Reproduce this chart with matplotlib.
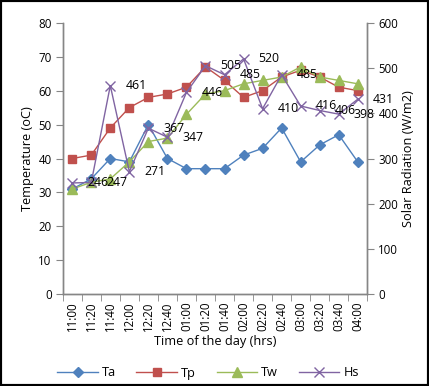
import matplotlib
matplotlib.use("Agg")
import matplotlib.pyplot as plt
from matplotlib.lines import Line2D
from matplotlib.patches import Rectangle

plt.rcParams['font.family'] = ['Open Sans', 'DejaVu Sans']

times = ["11:00", "11:20", "11:40", "12:00", "12:20", "12:40", "01:00", "01:20",
         "01:40", "02:00", "02:20", "02:40", "03:00", "03:20", "03:40", "04:00"]
Ta = [31, 34, 40, 39, 50, 40, 37, 37, 37, 41, 43, 49, 39, 44, 47, 39]
Tp = [40, 41, 49, 55, 58, 59, 61, 67, 63, 58, 60, 64, 66, 64, 61, 60]
Tw = [31, 33, 34, 39, 45, 46, 53, 59, 60, 62, 63, 64, 67, 64, 63, 62]
Hs = [246, 247, 461, 271, 367, 347, 446, 505, 485, 520, 410, 485, 416, 406, 398, 431]

c_ta = "#4F81BD"
c_tp = "#C0504D"
c_tw = "#9BBB59"
c_hs = "#8064A2"
grey = "#868686"
fs_tick = 8.3
fs_lab = 9.2
fs_data = 8.8

fig = plt.figure(figsize=(4.29, 3.86), dpi=100)
ax = fig.add_axes([62.7 / 429, 1 - 294.3 / 386, (367.3 - 62.7) / 429, (294.3 - 22.7) / 386])
ax2 = ax.twinx()

x = list(range(len(times)))
ax.plot(x, Ta, color=c_ta, lw=1, marker='D', ms=5, mfc=c_ta, mec=c_ta, zorder=3)
ax.plot(x, Tp, color=c_tp, lw=1, marker='s', ms=6, mfc=c_tp, mec=c_tp, zorder=3)
ax.plot(x, Tw, color=c_tw, lw=1, marker='^', ms=6.5, mfc=c_tw, mec=c_tw, zorder=3)
ax2.plot(x, Hs, color=c_hs, lw=1, marker='x', ms=7, mew=1, mec=c_hs, zorder=3)

for xi, v in zip(x, Hs):
    ax2.annotate(str(v), (xi, v), xytext=(15, 0), textcoords='offset pixels',
                 ha='left', va='center', fontsize=fs_data, color='black', zorder=5)

ax.set_xlim(-0.5, len(times) - 0.5)
ax.set_ylim(0, 80)
ax2.set_ylim(0, 600)
ax.set_yticks(range(0, 81, 10))
ax2.set_yticks(range(0, 601, 100))
ax.set_xticks(x)
ax.set_xticklabels(times, rotation=90, fontsize=fs_tick)
ax.set_xticks([i - 0.5 for i in range(len(times) + 1)], minor=True)
ax.tick_params(axis='x', which='major', length=0, pad=5)
ax.tick_params(axis='x', which='minor', length=5, color=grey, direction='out')
ax.tick_params(axis='y', length=5, color=grey, labelsize=fs_tick, pad=3)
ax2.tick_params(axis='y', length=5, color=grey, labelsize=fs_tick, pad=3)

for a in (ax, ax2):
    a.spines['top'].set_visible(False)
    for s in ('left', 'right', 'bottom'):
        a.spines[s].set_color(grey)
        a.spines[s].set_linewidth(1)

ax.set_ylabel("Temperature (oC)", fontsize=fs_lab, labelpad=3)
ax2.set_ylabel("Solar Radiation (W/m2)", fontsize=fs_lab, labelpad=3)
ax.set_xlabel("Time of the day (hrs)", fontsize=fs_lab, labelpad=3)

handles = [
    Line2D([], [], color=c_ta, lw=1, marker='D', ms=5, mfc=c_ta, mec=c_ta),
    Line2D([], [], color=c_tp, lw=1, marker='s', ms=6, mfc=c_tp, mec=c_tp),
    Line2D([], [], color=c_tw, lw=1, marker='^', ms=6.5, mfc=c_tw, mec=c_tw),
    Line2D([], [], color=c_hs, lw=1, marker='x', ms=7, mec=c_hs),
]
fig.legend(handles, ["Ta", "Tp", "Tw", "Hs"], loc='center', bbox_to_anchor=(208 / 429, 1 - 373 / 386),
           ncol=4, frameon=False, fontsize=fs_lab, handlelength=3.2, columnspacing=1.6,
           handletextpad=0.3, borderpad=0)

fig.patches.append(Rectangle((0, 0), 1, 1, transform=fig.transFigure, fill=False,
                             edgecolor='black', lw=3, zorder=10))

fig.savefig("out.png", dpi=100)
